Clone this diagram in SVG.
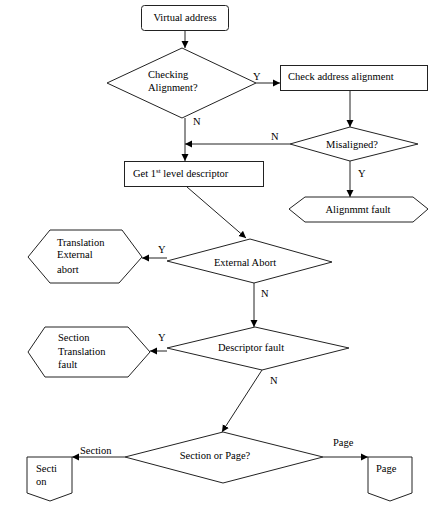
<svg xmlns="http://www.w3.org/2000/svg" width="441" height="514" viewBox="0 0 441 514">
<defs>
<marker id="ah" markerWidth="8" markerHeight="8" refX="7" refY="4" orient="auto" markerUnits="userSpaceOnUse">
<path d="M0,0.5 L7,4 L0,7.5 Z" fill="#000"/>
</marker>
<style>
.s{fill:#fff;stroke:#222;stroke-width:1}
.c{fill:none;stroke:#222;stroke-width:1;marker-end:url(#ah)}
text{font-family:"Liberation Serif","Times New Roman",serif;font-size:10.5px;fill:#000}
.m{text-anchor:middle}
</style>
</defs>
<rect width="441" height="514" fill="#fff"/>
<g id="connectors">
<line class="c" x1="185" y1="31" x2="185" y2="48"/>
<line class="c" x1="256" y1="83" x2="280" y2="83"/>
<line class="c" x1="350" y1="91" x2="350" y2="127"/>
<line class="c" x1="290" y1="144" x2="185" y2="144"/>
<line class="c" x1="185" y1="118" x2="185" y2="161"/>
<line class="c" x1="350" y1="161" x2="350" y2="197"/>
<line class="c" x1="187" y1="187" x2="246" y2="238"/>
<line class="c" x1="167" y1="258" x2="142" y2="258"/>
<line class="c" x1="254" y1="283" x2="254" y2="327"/>
<line class="c" x1="167" y1="351" x2="150" y2="351"/>
<line class="c" x1="262" y1="370" x2="222" y2="432"/>
<line class="c" x1="125" y1="457" x2="72" y2="457"/>
<line class="c" x1="323" y1="457" x2="368" y2="457"/>
<text x="253" y="80">Y</text>
<text x="193" y="125">N</text>
<text x="271" y="140">N</text>
<text x="358" y="177">Y</text>
<text x="158" y="253">Y</text>
<text x="261" y="297">N</text>
<text x="158" y="341">Y</text>
<text x="270" y="384">N</text>
<text x="80" y="454">Section</text>
<text x="333" y="446">Page</text>
</g>
<g id="virtual-address">
<rect class="s" x="141.5" y="5.5" width="87" height="25" rx="3"/>
<text class="m" x="185" y="21">Virtual address</text>
</g>
<g id="checking-alignment">
<polygon class="s" points="182,48 256,83 182,118 107,83"/>
<text x="148" y="78">Checking</text>
<text x="148" y="91">Alignment?</text>
</g>
<g id="check-address-alignment">
<rect class="s" x="280.5" y="65.5" width="147" height="25"/>
<text x="288" y="80">Check address alignment</text>
</g>
<g id="misaligned">
<polygon class="s" points="350,127 418,144 350,161 290,144"/>
<text class="m" x="352" y="148">Misaligned?</text>
</g>
<g id="get-descriptor">
<rect class="s" x="124.5" y="161.5" width="139" height="25"/>
<text x="133" y="177">Get 1<tspan font-size="7" dy="-4">st</tspan><tspan dy="4"> level descriptor</tspan></text>
</g>
<g id="alignment-fault">
<polygon class="s" points="289,209 305,197 413,197 428,209 413,222 305,222"/>
<text class="m" x="358" y="213">Alignmmt fault</text>
</g>
<g id="external-abort">
<polygon class="s" points="250,239 332,262 254,283 167,261"/>
<text class="m" x="245" y="266">External Abort</text>
</g>
<g id="translation-external-abort">
<polygon class="s" points="28,257 50,230 122,230 142,257 119,283 50,283"/>
<text x="57" y="246">Translation</text>
<text x="57" y="258">External</text>
<text x="57" y="273">abort</text>
</g>
<g id="descriptor-fault">
<polygon class="s" points="255,327 349,348 262,370 167,348"/>
<text class="m" x="251" y="351">Descriptor fault</text>
</g>
<g id="section-translation-fault">
<polygon class="s" points="28,352 45,327 128,327 150,352 128,377 45,377"/>
<text x="58" y="341">Section</text>
<text x="58" y="355">Translation</text>
<text x="58" y="368">fault</text>
</g>
<g id="section-or-page">
<polygon class="s" points="223,432 323,457 223,483 125,457"/>
<text class="m" x="215" y="459">Section or Page?</text>
</g>
<g id="section">
<polygon class="s" points="27,457 72,457 72,493 50,501 27,493"/>
<text x="36" y="472">Secti</text>
<text x="36" y="485">on</text>
</g>
<g id="page">
<polygon class="s" points="368,457 412,457 412,493 390,501 368,493"/>
<text x="376" y="472">Page</text>
</g>
</svg>
